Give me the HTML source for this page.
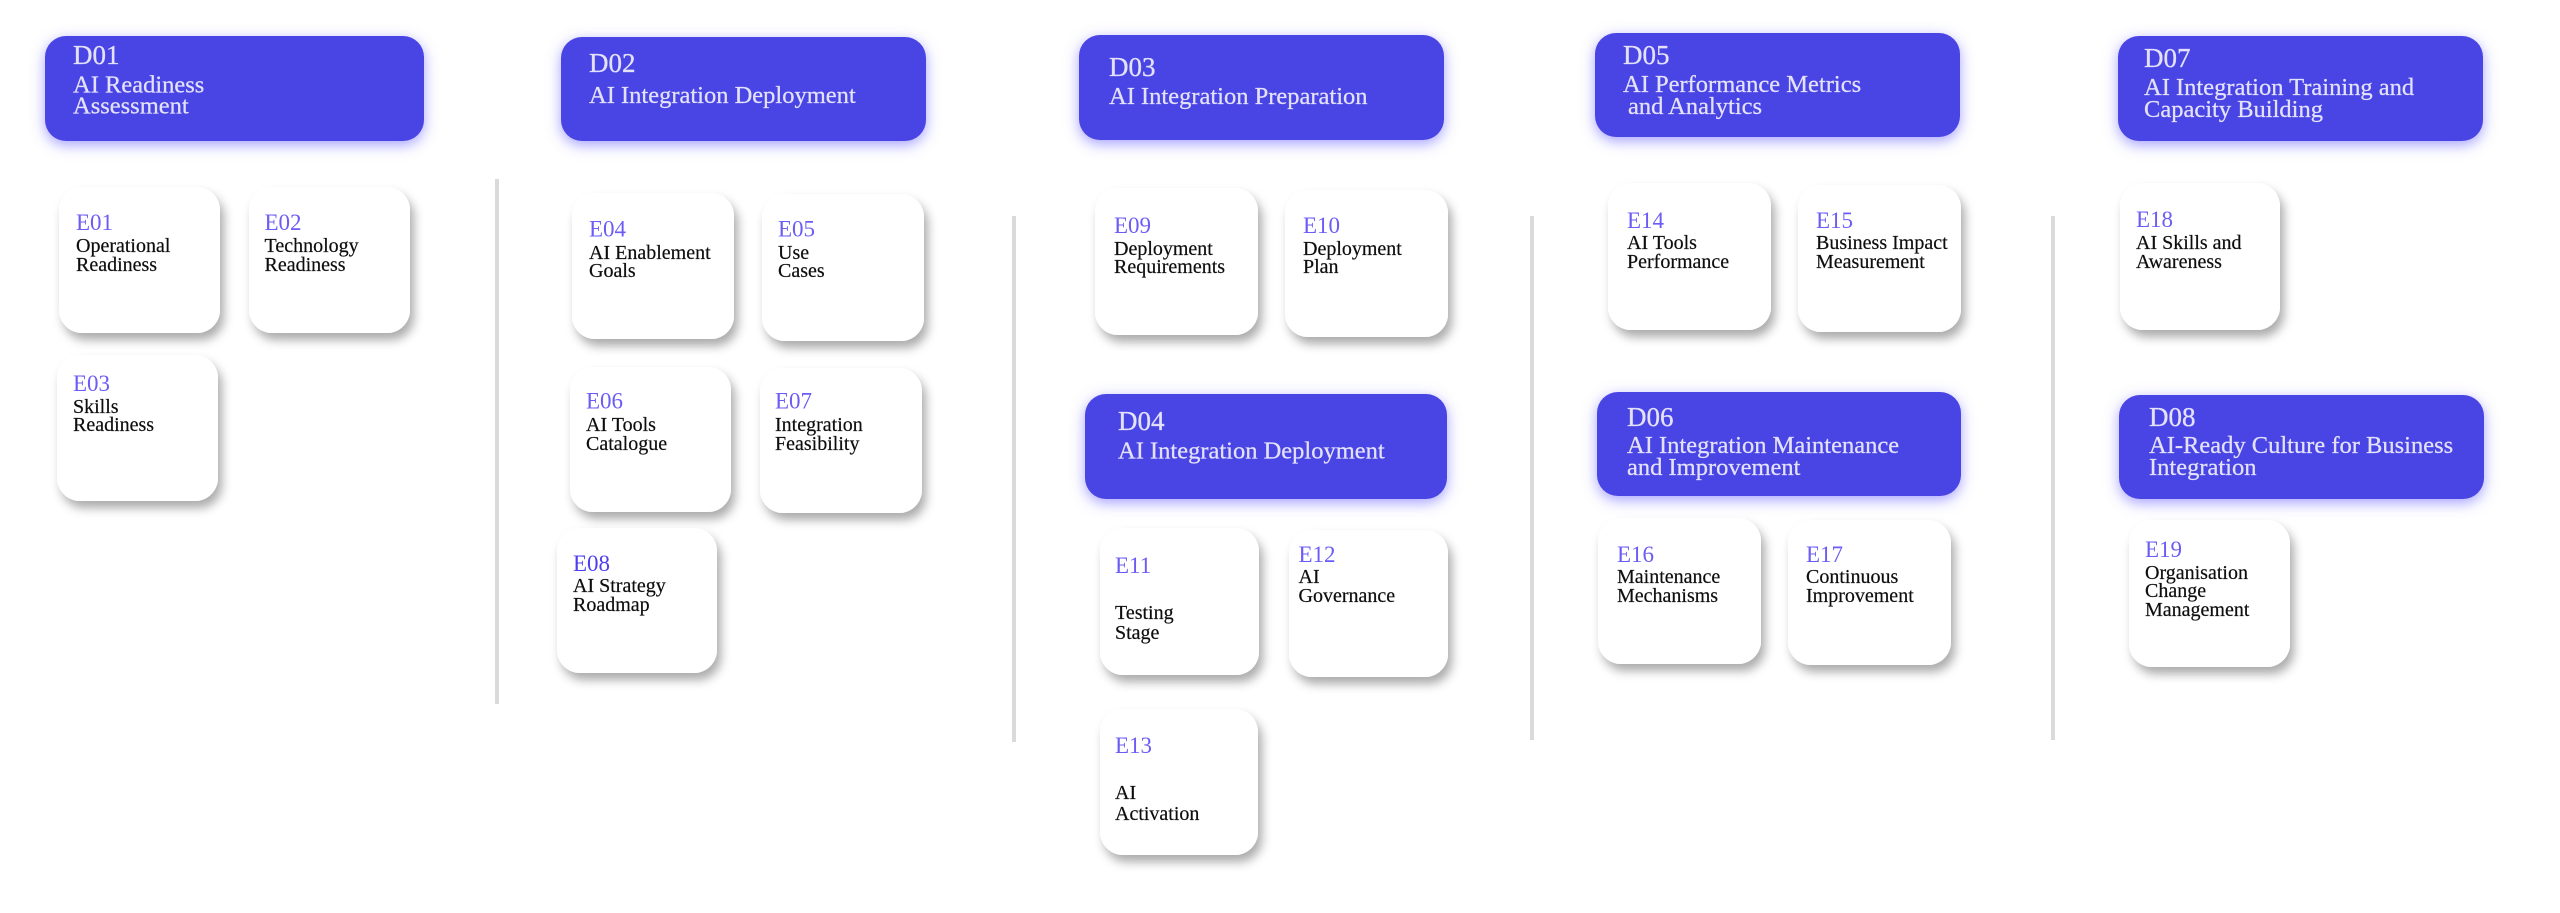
<!DOCTYPE html>
<html>
<head>
<meta charset="utf-8">
<style>
  html,body{margin:0;padding:0;background:#ffffff;}
  body{width:2560px;height:913px;overflow:hidden;}
  svg{display:block;}
  .hc{font-family:"Liberation Serif",serif;font-size:27px;fill:#e4e1fb;stroke:#e4e1fb;stroke-width:0.3px;}
  .ht{font-family:"Liberation Serif",serif;font-size:24.5px;fill:#e4e1fb;stroke:#e4e1fb;stroke-width:0.25px;}
  .el{font-family:"Liberation Serif",serif;font-size:23px;fill:#6b5cf6;}
  .el2{font-family:"Liberation Serif",serif;font-size:23px;fill:#4d3ef0;}
  .eb{font-family:"Liberation Serif",serif;font-size:20px;fill:#0e0e0e;stroke:#0e0e0e;stroke-width:0.2px;}
  .hd{fill:#4a44e4;}
  .cd{fill:#ffffff;}
  .dv{fill:#dadada;}
</style>
</head>
<body>
<svg width="2560" height="913" viewBox="0 0 2560 913" xmlns="http://www.w3.org/2000/svg">
  <defs>
    <filter id="glow" x="-15%" y="-40%" width="130%" height="190%">
      <feDropShadow dx="0" dy="4" stdDeviation="7" flood-color="#6b63ff" flood-opacity="0.6"/>
    </filter>
    <filter id="sh" x="-20%" y="-20%" width="150%" height="150%">
      <feDropShadow dx="4" dy="7" stdDeviation="5" flood-color="#000000" flood-opacity="0.33"/>
    </filter>
  </defs>

  <!-- dividers -->
  <rect class="dv" x="495" y="179" width="4" height="525"/>
  <rect class="dv" x="1012" y="216" width="4" height="526"/>
  <rect class="dv" x="1530" y="216" width="4" height="524"/>
  <rect class="dv" x="2051" y="216" width="4" height="524"/>

  <!-- header boxes -->
  <g filter="url(#glow)">
    <rect class="hd" x="45" y="36" width="379" height="105" rx="21"/>
    <rect class="hd" x="561" y="37" width="365" height="104" rx="21"/>
    <rect class="hd" x="1079" y="35" width="365" height="105" rx="21"/>
    <rect class="hd" x="1085" y="394" width="362" height="105" rx="21"/>
    <rect class="hd" x="1595" y="33" width="365" height="104" rx="21"/>
    <rect class="hd" x="1597" y="392" width="364" height="104" rx="21"/>
    <rect class="hd" x="2118" y="36" width="365" height="105" rx="21"/>
    <rect class="hd" x="2119" y="395" width="365" height="104" rx="21"/>
  </g>

  <!-- cards -->
  <g filter="url(#sh)">
    <rect class="cd" x="59" y="187" width="161" height="146" rx="23"/>
    <rect class="cd" x="249" y="187" width="161" height="146" rx="23"/>
    <rect class="cd" x="57" y="355" width="161" height="146" rx="23"/>

    <rect class="cd" x="572" y="193" width="162" height="146" rx="23"/>
    <rect class="cd" x="762" y="194" width="162" height="147" rx="23"/>
    <rect class="cd" x="570" y="367" width="161" height="145" rx="23"/>
    <rect class="cd" x="760" y="368" width="162" height="145" rx="23"/>
    <rect class="cd" x="557" y="528" width="160" height="145" rx="23"/>

    <rect class="cd" x="1095" y="188" width="163" height="147" rx="23"/>
    <rect class="cd" x="1285" y="190" width="163" height="147" rx="23"/>
    <rect class="cd" x="1100" y="528" width="159" height="147" rx="23"/>
    <rect class="cd" x="1289" y="530" width="159" height="147" rx="23"/>
    <rect class="cd" x="1100" y="709" width="158" height="146" rx="23"/>

    <rect class="cd" x="1608" y="183" width="163" height="147" rx="23"/>
    <rect class="cd" x="1798" y="185" width="163" height="147" rx="23"/>
    <rect class="cd" x="1598" y="518" width="163" height="146" rx="23"/>
    <rect class="cd" x="1788" y="520" width="163" height="145" rx="23"/>

    <rect class="cd" x="2120" y="183" width="160" height="147" rx="23"/>
    <rect class="cd" x="2129" y="520" width="161" height="147" rx="23"/>
  </g>

  <!-- header text -->
  <text class="hc" x="73" y="64">D01</text>
  <text class="ht" x="73" y="92.5">AI Readiness</text>
  <text class="ht" x="73" y="113.5">Assessment</text>

  <text class="hc" x="589" y="72">D02</text>
  <text class="ht" x="589" y="103">AI Integration Deployment</text>

  <text class="hc" x="1109" y="76">D03</text>
  <text class="ht" x="1109" y="104">AI Integration Preparation</text>

  <text class="hc" x="1118" y="430">D04</text>
  <text class="ht" x="1118" y="458.5">AI Integration Deployment</text>

  <text class="hc" x="1623" y="64">D05</text>
  <text class="ht" x="1623" y="92">AI Performance Metrics</text>
  <text class="ht" x="1628" y="114">and Analytics</text>

  <text class="hc" x="1627" y="426">D06</text>
  <text class="ht" x="1627" y="453">AI Integration Maintenance</text>
  <text class="ht" x="1627" y="475">and Improvement</text>

  <text class="hc" x="2144" y="67">D07</text>
  <text class="ht" x="2144" y="95">AI Integration Training and</text>
  <text class="ht" x="2144" y="117">Capacity Building</text>

  <text class="hc" x="2149" y="426">D08</text>
  <text class="ht" x="2149" y="453">AI-Ready Culture for Business</text>
  <text class="ht" x="2149" y="475">Integration</text>

  <!-- card text -->
  <text class="el" x="76" y="230">E01</text>
  <text class="eb" x="76" y="252">Operational</text>
  <text class="eb" x="76" y="271">Readiness</text>

  <text class="el" x="264.5" y="230">E02</text>
  <text class="eb" x="264.5" y="252">Technology</text>
  <text class="eb" x="264.5" y="271">Readiness</text>

  <text class="el" x="73" y="391">E03</text>
  <text class="eb" x="73" y="413">Skills</text>
  <text class="eb" x="73" y="431">Readiness</text>

  <text class="el" x="589" y="236.5">E04</text>
  <text class="eb" x="589" y="259">AI Enablement</text>
  <text class="eb" x="589" y="277">Goals</text>

  <text class="el" x="778" y="236.5">E05</text>
  <text class="eb" x="778" y="259">Use</text>
  <text class="eb" x="778" y="277">Cases</text>

  <text class="el" x="586" y="408.5">E06</text>
  <text class="eb" x="586" y="431">AI Tools</text>
  <text class="eb" x="586" y="450">Catalogue</text>

  <text class="el" x="775" y="408.5">E07</text>
  <text class="eb" x="775" y="431">Integration</text>
  <text class="eb" x="775" y="450">Feasibility</text>

  <text class="el2" x="573" y="571">E08</text>
  <text class="eb" x="573" y="592">AI Strategy</text>
  <text class="eb" x="573" y="611">Roadmap</text>

  <text class="el" x="1114" y="233">E09</text>
  <text class="eb" x="1114" y="255">Deployment</text>
  <text class="eb" x="1114" y="273">Requirements</text>

  <text class="el" x="1303" y="233">E10</text>
  <text class="eb" x="1303" y="255">Deployment</text>
  <text class="eb" x="1303" y="273">Plan</text>

  <text class="el" x="1115" y="573">E11</text>
  <text class="eb" x="1115" y="619">Testing</text>
  <text class="eb" x="1115" y="639">Stage</text>

  <text class="el" x="1298.5" y="562">E12</text>
  <text class="eb" x="1298.5" y="583">AI</text>
  <text class="eb" x="1298.5" y="602">Governance</text>

  <text class="el" x="1115" y="753">E13</text>
  <text class="eb" x="1115" y="799">AI</text>
  <text class="eb" x="1115" y="820">Activation</text>

  <text class="el" x="1627" y="228">E14</text>
  <text class="eb" x="1627" y="249">AI Tools</text>
  <text class="eb" x="1627" y="268">Performance</text>

  <text class="el" x="1816" y="228">E15</text>
  <text class="eb" x="1816" y="249">Business Impact</text>
  <text class="eb" x="1816" y="268">Measurement</text>

  <text class="el" x="1617" y="562">E16</text>
  <text class="eb" x="1617" y="583">Maintenance</text>
  <text class="eb" x="1617" y="602">Mechanisms</text>

  <text class="el" x="1806" y="562">E17</text>
  <text class="eb" x="1806" y="583">Continuous</text>
  <text class="eb" x="1806" y="602">Improvement</text>

  <text class="el" x="2136" y="227">E18</text>
  <text class="eb" x="2136" y="249">AI Skills and</text>
  <text class="eb" x="2136" y="268">Awareness</text>

  <text class="el" x="2145" y="557">E19</text>
  <text class="eb" x="2145" y="579">Organisation</text>
  <text class="eb" x="2145" y="597">Change</text>
  <text class="eb" x="2145" y="616">Management</text>
</svg>
</body>
</html>
